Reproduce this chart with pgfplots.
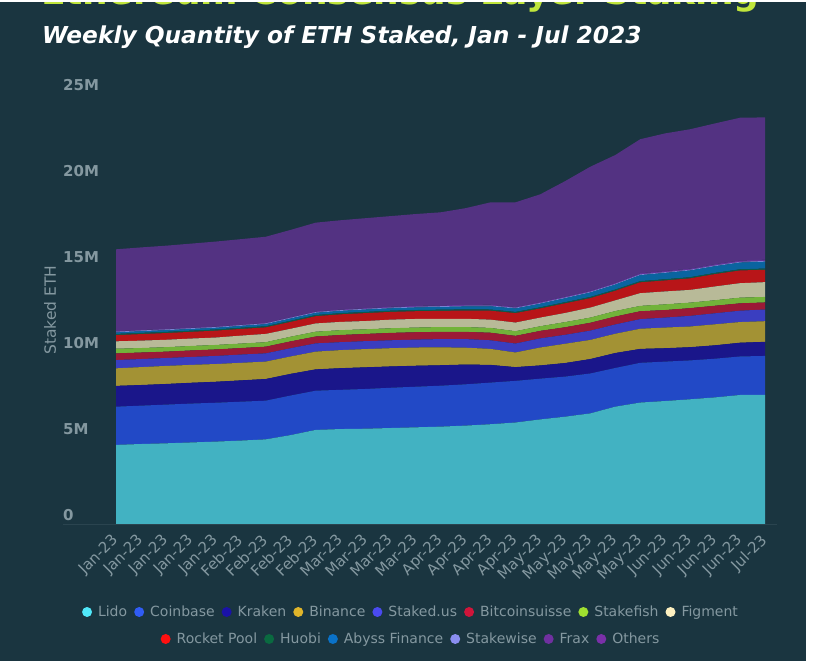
\documentclass[border=0pt]{standalone}
\usepackage{pgfplots}
\pgfplotsset{compat=1.18}
\usepackage{pgfplotstable}
\usepackage{fontspec}
\setmainfont{DejaVu Sans}

\definecolor{bgc}{RGB}{26,53,64}
\definecolor{tickc}{RGB}{132,152,160}
\definecolor{axisc}{RGB}{42,68,79}
\definecolor{limec}{RGB}{192,230,60}
% area colours
\definecolor{aLido}{RGB}{66,178,194}
\definecolor{aCoinbase}{RGB}{34,73,198}
\definecolor{aKraken}{RGB}{26,22,138}
\definecolor{aBinance}{RGB}{163,146,52}
\definecolor{aStaked}{RGB}{58,62,192}
\definecolor{aBitcoin}{RGB}{155,26,54}
\definecolor{aStakefish}{RGB}{114,179,58}
\definecolor{aFigment}{RGB}{184,186,152}
\definecolor{aRocket}{RGB}{184,21,24}
\definecolor{aHuobi}{RGB}{13,90,74}
\definecolor{aAbyss}{RGB}{10,100,160}
\definecolor{aStakewise}{RGB}{136,136,221}
\definecolor{aFrax}{RGB}{96,50,150}
\definecolor{aOthers}{RGB}{83,50,130}
% legend colours
\definecolor{lLido}{RGB}{80,232,250}
\definecolor{lCoinbase}{RGB}{48,92,245}
\definecolor{lKraken}{RGB}{26,18,168}
\definecolor{lBinance}{RGB}{224,181,42}
\definecolor{lStaked}{RGB}{74,74,240}
\definecolor{lBitcoin}{RGB}{208,21,58}
\definecolor{lStakefish}{RGB}{160,224,48}
\definecolor{lFigment}{RGB}{253,240,192}
\definecolor{lRocket}{RGB}{255,16,16}
\definecolor{lHuobi}{RGB}{10,106,64}
\definecolor{lAbyss}{RGB}{10,114,200}
\definecolor{lStakewise}{RGB}{138,142,240}
\definecolor{lFrax}{RGB}{112,48,160}
\definecolor{lOthers}{RGB}{122,48,168}

\pgfplotstableread{
x Lido Coinbase Kraken Binance StakedUs Bitcoinsuisse Stakefish Figment RocketPool Huobi Abyss Stakewise Frax Others
0 4.60 2.22 1.21 1.02 0.48 0.39 0.27 0.43 0.36 0.07 0.09 0.04 0.03 4.76
1 4.65 2.23 1.20 1.04 0.47 0.38 0.26 0.43 0.38 0.07 0.10 0.04 0.03 4.80
2 4.69 2.25 1.20 1.05 0.46 0.37 0.26 0.43 0.39 0.07 0.10 0.04 0.03 4.84
3 4.74 2.26 1.21 1.04 0.46 0.38 0.26 0.43 0.39 0.07 0.10 0.04 0.03 4.89
4 4.79 2.26 1.22 1.03 0.47 0.38 0.26 0.43 0.40 0.07 0.10 0.04 0.03 4.94
5 4.85 2.26 1.24 1.02 0.48 0.38 0.26 0.46 0.39 0.07 0.11 0.04 0.03 4.97
6 4.92 2.25 1.26 1.01 0.48 0.39 0.26 0.48 0.38 0.07 0.12 0.04 0.04 5.00
7 5.17 2.30 1.26 1.01 0.48 0.40 0.27 0.46 0.40 0.07 0.13 0.04 0.04 5.07
8 5.47 2.28 1.24 1.03 0.48 0.40 0.28 0.48 0.42 0.07 0.13 0.04 0.04 5.16
9 5.52 2.28 1.26 1.05 0.46 0.42 0.28 0.48 0.44 0.07 0.13 0.04 0.04 5.19
10 5.54 2.31 1.26 1.06 0.46 0.42 0.27 0.48 0.46 0.07 0.14 0.04 0.04 5.23
11 5.58 2.34 1.24 1.06 0.46 0.43 0.27 0.50 0.45 0.07 0.14 0.04 0.05 5.27
12 5.62 2.36 1.22 1.06 0.46 0.43 0.27 0.50 0.45 0.07 0.15 0.04 0.05 5.34
13 5.66 2.38 1.19 1.04 0.48 0.42 0.28 0.48 0.46 0.07 0.16 0.04 0.05 5.41
14 5.72 2.40 1.15 0.98 0.50 0.42 0.28 0.48 0.48 0.07 0.17 0.04 0.05 5.62
15 5.80 2.42 1.03 0.93 0.50 0.44 0.28 0.48 0.52 0.07 0.19 0.04 0.05 5.95
16 5.90 2.42 0.80 0.85 0.52 0.45 0.27 0.50 0.55 0.07 0.20 0.04 0.05 6.08
17 6.08 2.37 0.77 1.04 0.53 0.44 0.27 0.50 0.53 0.07 0.21 0.04 0.06 6.26
18 6.24 2.33 0.79 1.12 0.52 0.44 0.30 0.53 0.56 0.07 0.23 0.04 0.06 6.71
19 6.43 2.32 0.84 1.11 0.54 0.46 0.30 0.58 0.55 0.07 0.26 0.04 0.06 7.21
20 6.82 2.25 0.87 1.12 0.54 0.46 0.32 0.62 0.56 0.07 0.29 0.04 0.06 7.43
21 7.06 2.31 0.81 1.17 0.56 0.46 0.31 0.74 0.63 0.07 0.35 0.04 0.07 7.79
22 7.15 2.29 0.78 1.20 0.58 0.44 0.33 0.75 0.64 0.07 0.37 0.04 0.07 8.00
23 7.25 2.26 0.77 1.20 0.62 0.45 0.32 0.74 0.67 0.07 0.39 0.04 0.07 8.10
24 7.36 2.25 0.78 1.22 0.64 0.44 0.32 0.80 0.72 0.07 0.39 0.04 0.08 8.18
25 7.50 2.24 0.80 1.20 0.66 0.43 0.33 0.84 0.74 0.07 0.39 0.04 0.08 8.30
26 7.50 2.27 0.82 1.20 0.68 0.41 0.32 0.86 0.72 0.07 0.40 0.04 0.08 8.27
}\stakedata

\newcommand{\leg}[2]{\tikz[baseline=-5pt]\fill[#1] (0,0) circle (5pt);\hspace{6pt}#2}
\newcommand{\lsep}{\hspace{7pt}}

\begin{document}
\begin{tikzpicture}
\path[use as bounding box] (0,0) rectangle (814pt,661pt);
\fill[bgc] (0,0) rectangle (814pt,661pt);

\node[anchor=base west, text=limec, inner sep=0pt,
  font=\bfseries\fontsize{36}{40}\selectfont] at (41pt,656.5pt) {Ethereum Consensus Layer Staking};
\fill[white] (0,659pt) rectangle (814pt,661pt);
\fill[white] (806pt,0) rectangle (814pt,661pt);

\node[anchor=base west, text=white, inner sep=0pt,
  font=\bfseries\itshape\fontsize{23.3}{26}\selectfont] at (42pt,617pt) {Weekly Quantity of ETH Staked, Jan - Jul 2023};

\begin{axis}[
  at={(63pt,137pt)}, anchor=south west,
  scale only axis, width=714pt, height=430pt,
  xmin=-2.1234, xmax=26.481, ymin=0, ymax=25,
  stack plots=y,
  axis line style={draw=none},
  tick style={draw=none},
  major tick length=0pt,
  xtick={0,...,26},
  xticklabels={Jan-23,Jan-23,Jan-23,Jan-23,Jan-23,Feb-23,Feb-23,Feb-23,Feb-23,Mar-23,Mar-23,Mar-23,Mar-23,Apr-23,Apr-23,Apr-23,Apr-23,May-23,May-23,May-23,May-23,May-23,Jun-23,Jun-23,Jun-23,Jun-23,Jul-23},
  ytick={0,5,10,15,20,25},
  yticklabels={0,5M,10M,15M,20M,25M},
  yticklabel style={anchor=south west, inner sep=0pt, yshift=3pt, text=tickc,
     font=\bfseries\fontsize{15}{18}\selectfont},
  xticklabel style={xshift=-5.5pt, yshift=-9pt, rotate=45, anchor=north east, inner sep=0pt,
     text=tickc, font=\fontsize{15}{17}\selectfont},
]
\addplot[fill=aLido, draw=none] table[x=x, y=Lido]{\stakedata} \closedcycle;
\addplot[fill=aCoinbase, draw=none] table[x=x, y=Coinbase]{\stakedata} \closedcycle;
\addplot[fill=aKraken, draw=none] table[x=x, y=Kraken]{\stakedata} \closedcycle;
\addplot[fill=aBinance, draw=none] table[x=x, y=Binance]{\stakedata} \closedcycle;
\addplot[fill=aStaked, draw=none] table[x=x, y=StakedUs]{\stakedata} \closedcycle;
\addplot[fill=aBitcoin, draw=none] table[x=x, y=Bitcoinsuisse]{\stakedata} \closedcycle;
\addplot[fill=aStakefish, draw=none] table[x=x, y=Stakefish]{\stakedata} \closedcycle;
\addplot[fill=aFigment, draw=none] table[x=x, y=Figment]{\stakedata} \closedcycle;
\addplot[fill=aRocket, draw=none] table[x=x, y=RocketPool]{\stakedata} \closedcycle;
\addplot[fill=aHuobi, draw=none] table[x=x, y=Huobi]{\stakedata} \closedcycle;
\addplot[fill=aAbyss, draw=none] table[x=x, y=Abyss]{\stakedata} \closedcycle;
\addplot[fill=aStakewise, draw=none] table[x=x, y=Stakewise]{\stakedata} \closedcycle;
\addplot[fill=aFrax, draw=none] table[x=x, y=Frax]{\stakedata} \closedcycle;
\addplot[fill=aOthers, draw=none] table[x=x, y=Others]{\stakedata} \closedcycle;
\end{axis}

\draw[axisc, line width=1pt] (63pt,136.5pt) -- (777pt,136.5pt);

\node[rotate=90, text=tickc, inner sep=0pt, font=\fontsize{15.5}{18}\selectfont] at (50pt,351pt) {Staked ETH};

\node[anchor=base, text=tickc, inner sep=0pt, font=\fontsize{14}{16}\selectfont] at (410pt,44pt) {%
\leg{lLido}{Lido}\lsep\leg{lCoinbase}{Coinbase}\lsep\leg{lKraken}{Kraken}\lsep\leg{lBinance}{Binance}\lsep\leg{lStaked}{Staked.us}\lsep\leg{lBitcoin}{Bitcoinsuisse}\lsep\leg{lStakefish}{Stakefish}\lsep\leg{lFigment}{Figment}};
\node[anchor=base, text=tickc, inner sep=0pt, font=\fontsize{14}{16}\selectfont] at (410pt,17pt) {%
\leg{lRocket}{Rocket Pool}\lsep\leg{lHuobi}{Huobi}\lsep\leg{lAbyss}{Abyss Finance}\lsep\leg{lStakewise}{Stakewise}\lsep\leg{lFrax}{Frax}\lsep\leg{lOthers}{Others}};
\end{tikzpicture}
\end{document}
